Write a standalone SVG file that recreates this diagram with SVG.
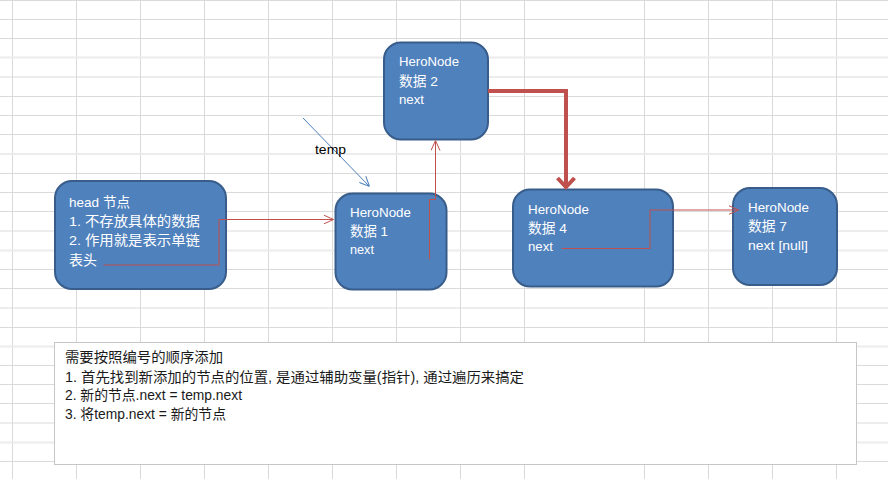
<svg xmlns="http://www.w3.org/2000/svg" width="888" height="479" viewBox="0 0 888 479">
<style>
.grid line{stroke:#dadada;stroke-width:1}
.node rect{fill:#4f81bd;stroke:#385d8a;stroke-width:2}
.node text{fill:#ffffff;font-family:"Liberation Sans","Noto Sans CJK SC",sans-serif;font-size:13.5px}
.note text{fill:#1a1a1a;font-family:"Liberation Sans","Noto Sans CJK SC",sans-serif;font-size:14px}
.red{fill:none;stroke:#c0504d;stroke-width:1}
.thick{fill:none;stroke:#c0504d;stroke-width:4}
.blue{fill:none;stroke:#4a7ebb;stroke-width:1}
.lbl{fill:#000;font-family:"Liberation Sans",sans-serif;font-size:13px}
</style>
<defs>
<marker id="arrRed" markerUnits="userSpaceOnUse" viewBox="0 0 10 10" refX="10" refY="5" markerWidth="10" markerHeight="10" orient="auto">
<path d="M0,0.5 L10,5 L0,9.5" fill="none" stroke="#c0504d" stroke-width="1"/>
</marker>
<marker id="arrBlue" markerUnits="userSpaceOnUse" viewBox="0 0 10 10" refX="10" refY="5" markerWidth="10" markerHeight="10" orient="auto">
<path d="M0,0.5 L10,5 L0,9.5" fill="none" stroke="#4a7ebb" stroke-width="1"/>
</marker>
<marker id="arrThick" markerUnits="userSpaceOnUse" viewBox="0 0 14 20" refX="12" refY="10" markerWidth="14" markerHeight="20" orient="auto">
<path d="M2,1.5 L11,10 L2,18.5" fill="none" stroke="#c0504d" stroke-width="4"/>
</marker>
</defs>
<rect x="0" y="0" width="888" height="479" fill="#ffffff"/>
<g class="grid">
<line x1="12.5" y1="0" x2="12.5" y2="479"/>
<line x1="76.5" y1="0" x2="76.5" y2="479"/>
<line x1="140.5" y1="0" x2="140.5" y2="479"/>
<line x1="204.5" y1="0" x2="204.5" y2="479"/>
<line x1="268.5" y1="0" x2="268.5" y2="479"/>
<line x1="332.5" y1="0" x2="332.5" y2="479"/>
<line x1="396.5" y1="0" x2="396.5" y2="479"/>
<line x1="460.5" y1="0" x2="460.5" y2="479"/>
<line x1="524.5" y1="0" x2="524.5" y2="479"/>
<line x1="644.5" y1="0" x2="644.5" y2="479"/>
<line x1="708.5" y1="0" x2="708.5" y2="479"/>
<line x1="772.5" y1="0" x2="772.5" y2="479"/>
<line x1="836.5" y1="0" x2="836.5" y2="479"/>
<line x1="0" y1="0.5" x2="888" y2="0.5"/>
<line x1="0" y1="19.5" x2="888" y2="19.5"/>
<line x1="0" y1="38.5" x2="888" y2="38.5"/>
<line x1="0" y1="57.5" x2="888" y2="57.5" style="stroke:#ececec;stroke-width:2"/>
<line x1="0" y1="77" x2="888" y2="77"/>
<line x1="0" y1="96.5" x2="888" y2="96.5"/>
<line x1="0" y1="115.5" x2="888" y2="115.5"/>
<line x1="0" y1="134.5" x2="888" y2="134.5"/>
<line x1="0" y1="154" x2="888" y2="154" style="stroke:#ececec;stroke-width:2"/>
<line x1="0" y1="173.5" x2="888" y2="173.5"/>
<line x1="0" y1="192.5" x2="888" y2="192.5"/>
<line x1="0" y1="211.5" x2="888" y2="211.5"/>
<line x1="0" y1="231" x2="888" y2="231"/>
<line x1="0" y1="250.5" x2="888" y2="250.5" style="stroke:#ececec;stroke-width:2"/>
<line x1="0" y1="269.5" x2="888" y2="269.5"/>
<line x1="0" y1="288.5" x2="888" y2="288.5"/>
<line x1="0" y1="308" x2="888" y2="308"/>
<line x1="0" y1="327.5" x2="888" y2="327.5"/>
<line x1="0" y1="346.5" x2="888" y2="346.5" style="stroke:#ececec;stroke-width:2"/>
<line x1="0" y1="365.5" x2="888" y2="365.5"/>
<line x1="0" y1="384.5" x2="888" y2="384.5"/>
<line x1="0" y1="403.5" x2="888" y2="403.5"/>
<line x1="0" y1="423" x2="888" y2="423"/>
<line x1="0" y1="442.5" x2="888" y2="442.5" style="stroke:#ececec;stroke-width:2"/>
<line x1="0" y1="461.5" x2="888" y2="461.5"/>
</g>
<g id="note" class="note">
<rect x="54.5" y="342.5" width="802" height="122" fill="#ffffff" stroke="#c6c6c6" stroke-width="1"/>
<text x="65" y="361.5" textLength="158" lengthAdjust="spacingAndGlyphs">需要按照编号的顺序添加</text>
<text x="65" y="381.5" textLength="459" lengthAdjust="spacingAndGlyphs">1. 首先找到新添加的节点的位置, 是通过辅助变量(指针), 通过遍历来搞定</text>
<text x="65" y="400" textLength="177" lengthAdjust="spacingAndGlyphs">2. 新的节点.next = temp.next</text>
<text x="65" y="418.5" textLength="161" lengthAdjust="spacingAndGlyphs">3. 将temp.next = 新的节点</text>
</g>
<g id="head" class="node">
<rect x="55" y="181" width="171" height="108" rx="17" ry="17"/>
<text x="69" y="207" textLength="61" lengthAdjust="spacingAndGlyphs">head 节点</text>
<text x="69" y="225.5" textLength="131" lengthAdjust="spacingAndGlyphs">1. 不存放具体的数据</text>
<text x="69" y="244.5" textLength="131" lengthAdjust="spacingAndGlyphs">2. 作用就是表示单链</text>
<text x="69" y="264.5" textLength="28" lengthAdjust="spacingAndGlyphs">表头</text>
</g>
<g id="node1" class="node">
<rect x="335.5" y="193.5" width="111" height="96" rx="17" ry="17"/>
<text x="350" y="216.5" textLength="61" lengthAdjust="spacingAndGlyphs">HeroNode</text>
<text x="350" y="236" textLength="38" lengthAdjust="spacingAndGlyphs">数据 1</text>
<text x="350" y="254" textLength="24" lengthAdjust="spacingAndGlyphs">next</text>
</g>
<g id="node2" class="node">
<rect x="384" y="42.5" width="104" height="97" rx="17" ry="17"/>
<text x="399" y="66" textLength="60" lengthAdjust="spacingAndGlyphs">HeroNode</text>
<text x="399" y="85.5" textLength="39" lengthAdjust="spacingAndGlyphs">数据 2</text>
<text x="399" y="103.5" textLength="25" lengthAdjust="spacingAndGlyphs">next</text>
</g>
<g id="node4" class="node">
<rect x="513" y="189.5" width="160" height="97" rx="17" ry="17"/>
<text x="528" y="213.5" textLength="61" lengthAdjust="spacingAndGlyphs">HeroNode</text>
<text x="528" y="232.5" textLength="39" lengthAdjust="spacingAndGlyphs">数据 4</text>
<text x="528" y="250.5" textLength="25" lengthAdjust="spacingAndGlyphs">next</text>
</g>
<g id="node7" class="node">
<rect x="733" y="188" width="104" height="97" rx="17" ry="17"/>
<text x="748" y="211.5" textLength="61" lengthAdjust="spacingAndGlyphs">HeroNode</text>
<text x="748" y="231" textLength="39" lengthAdjust="spacingAndGlyphs">数据 7</text>
<text x="748" y="249.5" textLength="60" lengthAdjust="spacingAndGlyphs">next [null]</text>
</g>
<g id="connectors">
<polyline class="red" points="103.5,265 219,265 219,219.5 333.5,219.5" marker-end="url(#arrRed)"/>
<polyline class="red" points="429.5,259.5 429.5,199.5 435.5,199.5 435.5,140.5" marker-end="url(#arrRed)"/>
<polyline class="red" points="561.5,248.5 650,248.5 650,210 738.5,210" marker-end="url(#arrRed)"/>
<polyline class="thick" points="488,91 566,91 566,188" marker-end="url(#arrThick)"/>
<line class="blue" x1="303" y1="118" x2="369.5" y2="186.5" marker-end="url(#arrBlue)"/>
<text class="lbl" x="315" y="154" textLength="31" lengthAdjust="spacingAndGlyphs">temp</text>
</g>
</svg>
